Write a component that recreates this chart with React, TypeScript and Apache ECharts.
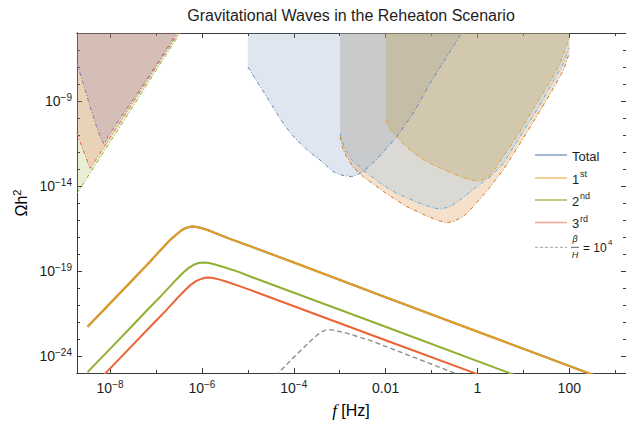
import { useEffect, useRef } from 'react';
import * as echarts from 'echarts';

// ---- axis ranges (log10 units) ----
const X_MIN = -8.72;
const X_MAX = 3.235;
const Y_MIN = -24.97;
const Y_MAX = -5;

// ---- ticks & labels ----
const xMajorTicks = [-8, -6, -4, -2, 0, 2];
const xMinorTicks = [-7, -5, -3, -1, 1, 3];
const xTickLabels = ['10^−8', '10^−6', '10^−4', '0.01', '1', '100'];
const yMajorTicks = [-24, -19, -14, -9];
const yMinorTicks = [-23, -22, -21, -20, -18, -17, -16, -15, -13, -12, -11, -10, -8, -7, -6];
const yTickLabels = ['10^−24', '10^−19', '10^−14', '10^−9'];

// ---- GW spectra: log10(f/Hz), log10(Ωh²) ----
const firstLogF = [-8.49, -8.0, -7.5, -7.13, -6.9, -6.69, -6.55, -6.45, -6.37, -6.3, -6.22, -6.14, -6.05, -5.97, -5.85, -5.68, -5.4, -4.95, -3.86, -2.0, 0.0, 2.41, 2.6];
const firstLogOmega = [-22.25, -20.88, -19.48, -18.43, -17.75, -17.15, -16.82, -16.6, -16.48, -16.41, -16.37, -16.38, -16.43, -16.49, -16.6, -16.78, -17.08, -17.52, -18.62, -20.52, -22.54, -24.97, -25.16];
const totalLogF = [-8.49, -8.0, -7.5, -7.13, -6.9, -6.69, -6.55, -6.45, -6.37, -6.3, -6.22, -6.14, -6.05, -5.97, -5.85, -5.68, -5.4, -4.95, -3.86, -2.0, 0.0, 2.41, 2.6];
const totalLogOmega = [-22.25, -20.88, -19.48, -18.43, -17.75, -17.15, -16.82, -16.6, -16.48, -16.41, -16.37, -16.38, -16.43, -16.49, -16.6, -16.78, -17.08, -17.52, -18.62, -20.52, -22.54, -24.97, -25.16];
const secondLogF = [-8.49, -8.0, -7.5, -7.2, -6.91, -6.7, -6.55, -6.4, -6.28, -6.17, -6.07, -5.97, -5.87, -5.75, -5.53, -5.2, -4.95, -2.0, 0.67, 0.85];
const secondLogOmega = [-24.92, -23.55, -22.15, -21.3, -20.5, -19.9, -19.46, -19.05, -18.78, -18.6, -18.51, -18.48, -18.5, -18.57, -18.74, -19.03, -19.3, -22.25, -24.95, -25.13];
const thirdLogF = [-8.15, -8.087, -7.5, -7.0, -6.8, -6.55, -6.38, -6.25, -6.12, -6.0, -5.93, -5.86, -5.76, -5.63, -5.46, -5.2, -4.95, -2.0, -0.09, 0.1];
const thirdLogOmega = [-25.12, -24.95, -23.3, -21.9, -21.35, -20.62, -20.14, -19.8, -19.56, -19.43, -19.38, -19.36, -19.39, -19.47, -19.61, -19.85, -20.09, -23.05, -24.95, -25.14];
const betaLogF = [-4.4, -4.336, -4.0, -3.79, -3.6, -3.48, -3.4, -3.32, -3.25, -3.17, -3.05, -2.85, -2.34, -0.524, -0.4];
const betaLogOmega = [-25.15, -24.97, -24.05, -23.5, -23.0, -22.72, -22.57, -22.47, -22.43, -22.44, -22.5, -22.63, -23.05, -24.95, -25.07];

// ---- sensitivity curves (filled above) ----
const ptaPurpleLogF = [-8.72, -8.58, -8.435, -8.3, -8.2, -8.146, -8.1, -8.05, -7.8, -7.42, -7.0, -6.55];
const ptaPurpleLogOmega = [-6.79, -8.0, -9.33, -10.45, -11.2, -11.48, -11.4, -11.1, -10.08, -8.6, -6.9, -5.0];
const ptaRedLogF = [-8.72, -8.58, -8.435, -8.3, -8.0, -7.5, -7.0, -6.513];
const ptaRedLogOmega = [-10.9, -11.93, -12.95, -12.4, -11.15, -9.08, -7.0, -5.0];
const ptaGreenLogF = [-8.72, -8.2, -7.6, -7.0, -6.476];
const ptaGreenLogOmega = [-14.42, -12.24, -9.73, -7.2, -5.0];
const lisaLogF = [-5.0, -4.8, -4.59, -4.4, -4.23, -4.05, -3.86, -3.65, -3.43, -3.28, -3.138, -2.95, -2.74, -2.6, -2.485, -2.2, -1.758, -1.4, -1.033, -0.7, -0.343];
const lisaLogOmega = [-6.99, -7.85, -8.75, -9.58, -10.31, -10.95, -11.48, -12.0, -12.46, -12.82, -13.15, -13.35, -13.44, -13.3, -13.15, -12.44, -11.09, -9.73, -7.96, -6.53, -5.0];
const outerLogF = [-2.99, -2.93, -2.85, -2.7, -2.485, -2.0, -1.54, -1.1, -0.85, -0.67, -0.5, -0.3, -0.16, 0.2, 0.56, 0.9, 1.29, 1.6, 1.87, 2.0];
const outerLogOmega = [-11.09, -11.8, -12.27, -12.9, -13.44, -14.4, -15.2, -15.75, -16.02, -16.15, -16.05, -15.75, -15.4, -14.3, -13.05, -11.6, -9.9, -8.5, -7.2, -6.2];
const innerLogF = [-2.99, -2.9, -2.75, -2.485, -2.1, -1.758, -1.3, -1.0, -0.815, -0.6, -0.4, -0.016, 0.3, 0.563, 0.9, 1.29, 1.6, 1.87, 2.0];
const innerLogOmega = [-10.9, -11.7, -12.4, -13.05, -13.85, -14.42, -14.95, -15.25, -15.35, -15.2, -14.85, -14.03, -13.4, -12.66, -11.2, -9.53, -8.1, -6.79, -5.9];
const bboLogF = [-1.99, -1.93, -1.85, -1.758, -1.6, -1.4, -1.2, -0.96, -0.5, -0.2, -0.016, 0.15, 0.3, 0.563, 0.9, 1.29, 1.55, 1.8, 2.0];
const bboLogOmega = [-10.11, -10.55, -10.85, -11.09, -11.55, -12.0, -12.4, -12.75, -13.3, -13.6, -13.7, -13.6, -13.3, -12.27, -10.9, -9.13, -8.0, -6.79, -5.3];

const legendNames = ['Total', '1', '2', '3'];
const legendSups = ['', 'st', 'nd', 'rd'];

const FONT = '"Liberation Sans", Arial, Helvetica, sans-serif';
const FRAME = '#3a3a3a';
const TXT = '#1e1e1e';

const zip = (a: number[], b: number[]) => a.map((v, i) => [v, b[i]]);

const richLabel = (s: string) => {
  const parts = s.split('^');
  return parts.length === 2 ? `{b|${parts[0]}}{s|${parts[1]}}` : `{b|${s}}`;
};

const labelRich = {
  b: { fontSize: 14, lineHeight: 18, fontFamily: FONT, color: TXT },
  s: { fontSize: 10, lineHeight: 10, verticalAlign: 'top', fontFamily: FONT, color: TXT },
};

function mkAxis(dim: 'x' | 'y', pos: string, ticks: number[], len: number, labels?: { vals: number[]; texts: string[] }) {
  const base: any = {
    type: 'value',
    position: pos,
    min: dim === 'x' ? X_MIN : Y_MIN,
    max: dim === 'x' ? X_MAX : Y_MAX,
    axisLine: { show: true, onZero: false, lineStyle: { color: FRAME, width: 1 } },
    axisTick: { show: true, inside: true, length: len, customValues: ticks, lineStyle: { color: FRAME, width: 1 } },
    splitLine: { show: false },
    axisLabel: { show: false },
  };
  if (labels) {
    base.axisLabel = {
      show: true,
      customValues: labels.vals,
      margin: dim === 'x' ? 6 : 5,
      formatter: (v: number) => {
        const i = labels.vals.findIndex((x) => Math.abs(x - v) < 1e-6);
        return i >= 0 ? richLabel(labels.texts[i]) : '';
      },
      rich: labelRich,
    };
  }
  return base;
}

function fillSeries(name: string, f: number[], o: number[], stroke: string, fill: string, opacity: number) {
  return {
    name,
    type: 'line',
    data: zip(f, o),
    showSymbol: false,
    symbol: 'none',
    smooth: false,
    silent: true,
    z: 1,
    lineStyle: { color: stroke, width: 1, type: [4, 2, 1, 2] },
    areaStyle: { color: fill, opacity, origin: 'end' },
  };
}

function curveSeries(name: string, f: number[], o: number[], color: string, width: number, dash?: number[]) {
  return {
    name,
    type: 'line',
    data: zip(f, o),
    showSymbol: false,
    symbol: 'none',
    smooth: false,
    silent: true,
    z: 3,
    lineStyle: { color, width, type: dash || 'solid', cap: 'butt', join: 'round' },
  };
}

export default function App() {
  const ref = useRef<HTMLDivElement>(null);
  useEffect(() => {
    if (!ref.current) return;
    const chart = echarts.init(ref.current, undefined, { renderer: 'svg' });

    const legendColors = ['rgba(94,129,181,0.75)', 'rgba(232,170,60,0.75)', 'rgba(143,176,50,0.8)', 'rgba(238,120,90,0.65)'];
    const legendY = [155, 178, 200, 222.5];
    const legendEls: any[] = [];
    legendNames.forEach((n, i) => {
      legendEls.push({ type: 'line', shape: { x1: 535, y1: legendY[i], x2: 567, y2: legendY[i] }, style: { stroke: legendColors[i], lineWidth: 1.5 } });
      legendEls.push({ type: 'text', x: 572, y: legendY[i] + 1, style: { text: n, fontSize: 13, fontFamily: FONT, fill: TXT, align: 'left', verticalAlign: 'middle' } });
      if (legendSups[i]) {
        legendEls.push({ type: 'text', x: 580, y: legendY[i] - 4, style: { text: legendSups[i], fontSize: 9, fontFamily: FONT, fill: TXT, align: 'left', verticalAlign: 'middle' } });
      }
    });
    const by = 247.3;
    legendEls.push({ type: 'line', shape: { x1: 535, y1: by, x2: 567, y2: by }, style: { stroke: '#b5b5b5', lineWidth: 1.2, lineDash: [3, 2] } });
    legendEls.push({ type: 'text', x: 575, y: by - 8, style: { text: 'β', fontSize: 9, fontStyle: 'italic', fontFamily: FONT, fill: TXT, align: 'center', verticalAlign: 'middle' } });
    legendEls.push({ type: 'line', shape: { x1: 571, y1: by, x2: 579, y2: by }, style: { stroke: TXT, lineWidth: 0.7 } });
    legendEls.push({ type: 'text', x: 575, y: by + 8, style: { text: 'H', fontSize: 9, fontStyle: 'italic', fontFamily: FONT, fill: TXT, align: 'center', verticalAlign: 'middle' } });
    legendEls.push({ type: 'text', x: 583, y: by + 1, style: { text: '= 10', fontSize: 12, fontFamily: FONT, fill: TXT, align: 'left', verticalAlign: 'middle' } });
    legendEls.push({ type: 'text', x: 608, y: by - 5, style: { text: '4', fontSize: 8, fontFamily: FONT, fill: TXT, align: 'left', verticalAlign: 'middle' } });

    chart.setOption({
      animation: false,
      backgroundColor: '#ffffff',
      grid: { left: 77, top: 33, width: 549, height: 340, containLabel: false },
      xAxis: [
        mkAxis('x', 'bottom', xMajorTicks, 5, { vals: xMajorTicks, texts: xTickLabels }),
        mkAxis('x', 'bottom', xMinorTicks, 3),
        mkAxis('x', 'top', xMajorTicks, 5),
        mkAxis('x', 'top', xMinorTicks, 3),
      ],
      yAxis: [
        mkAxis('y', 'left', yMajorTicks, 5, { vals: yMajorTicks, texts: yTickLabels }),
        mkAxis('y', 'left', yMinorTicks, 3),
        mkAxis('y', 'right', yMajorTicks, 5),
        mkAxis('y', 'right', yMinorTicks, 3),
      ],
      series: [
        fillSeries('PTA A', ptaGreenLogF, ptaGreenLogOmega, '#8FB032', '#8FB032', 0.2),
        fillSeries('PTA B', ptaRedLogF, ptaRedLogOmega, '#EB6235', '#EB6235', 0.2),
        fillSeries('PTA C', ptaPurpleLogF, ptaPurpleLogOmega, '#8778B3', '#8778B3', 0.22),
        fillSeries('LISA', lisaLogF, lisaLogOmega, '#6688C0', '#5E81B5', 0.2),
        fillSeries('Outer', outerLogF, outerLogOmega, '#D07A2A', '#D78232', 0.25),
        fillSeries('Inner', innerLogF, innerLogOmega, '#6AAEDC', '#8CC3EB', 0.25),
        fillSeries('BBO', bboLogF, bboLogOmega, '#E3A232', '#BB9938', 0.25),
        curveSeries('β/H = 10^4', betaLogF, betaLogOmega, '#8f8f8f', 1.4, [5, 3]),
        curveSeries('3rd', thirdLogF, thirdLogOmega, '#EB6235', 2),
        curveSeries('2nd', secondLogF, secondLogOmega, '#8FB032', 2),
        curveSeries('Total', totalLogF, totalLogOmega, '#5E81B5', 2),
        curveSeries('1st', firstLogF, firstLogOmega, '#E19C24', 2.2),
      ],
      graphic: [
        { type: 'text', x: 351, y: 15, style: { text: 'Gravitational Waves in the Reheaton Scenario', fontSize: 16, fontFamily: FONT, fill: TXT, align: 'center', verticalAlign: 'middle' } },
        { type: 'text', x: 21, y: 203, rotation: Math.PI / 2, style: { text: '{a|Ωh}{s|2}', align: 'center', verticalAlign: 'middle', rich: { a: { fontSize: 16, lineHeight: 20, fontFamily: FONT, color: TXT }, s: { fontSize: 11, lineHeight: 11, verticalAlign: 'top', fontFamily: FONT, color: TXT } } } },
        { type: 'text', x: 351, y: 410, style: { text: '{i|f}{r| [Hz]}', align: 'center', verticalAlign: 'middle', rich: { i: { fontSize: 17, fontStyle: 'italic', fontFamily: '"Liberation Serif", serif', color: TXT }, r: { fontSize: 16, fontFamily: FONT, color: TXT } } } },
        ...legendEls,
      ],
    });
    return () => chart.dispose();
  }, []);
  return <div ref={ref} style={{ position: 'fixed', left: 0, top: 0, width: 626, height: 424 }} />;
}
